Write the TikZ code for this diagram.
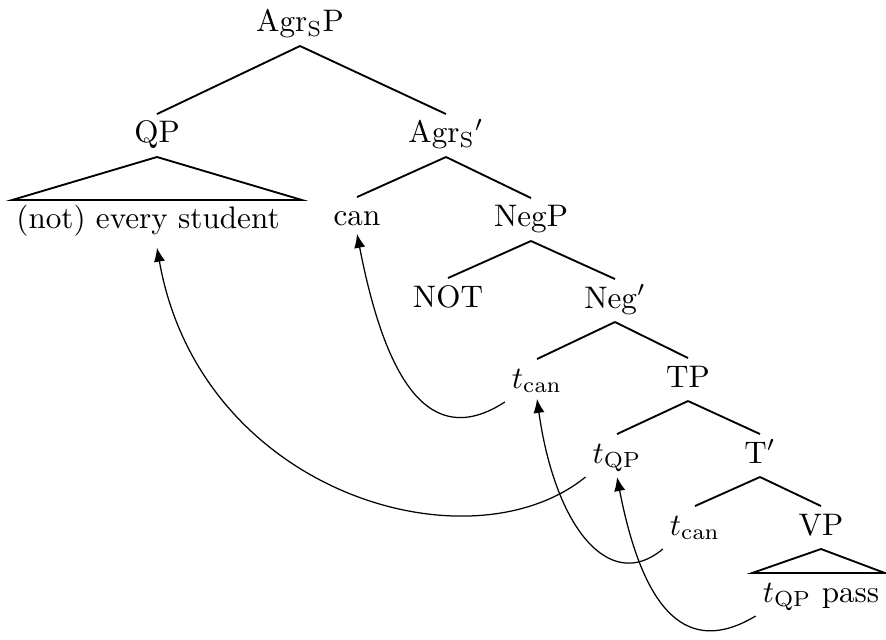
\documentclass[tikz,border=0pt]{standalone}
\usetikzlibrary{arrows.meta}

\begin{document}
\begin{tikzpicture}[x=0.11287mm,y=0.11287mm,>={Latex[length=4.5pt,width=3.6pt]},semithick]
  \tikzstyle{every node}=[anchor=base,inner sep=2pt,text height=7pt,text depth=2.2pt]
  \useasboundingbox (0,0) rectangle (886,639);

  \node (AgrSP) at (300,607) {Agr$_{\mathrm{S}}$P};
  \node (QP)    at (157,496) {QP};
  \node (AgrSb) at (446,496) {Agr$_{\mathrm{S}}{}'$};
  \node (stud)  at (148,410) {(not) every student};
  \node (can)   at (357,413) {can};
  \node (NegP)  at (531,412) {NegP};
  \node (NOT)   at (448,332) {NOT};
  \node (Negb)  at (615,331) {Neg$'$};
  \node (tcanA) at (537,251) {$t_{\mathrm{can}}$};
  \node (TP)    at (688,252) {TP};
  \node (tQPA)  at (617,176) {$t_{\mathrm{QP}}$};
  \node (Tb)    at (760,176) {T$'$};
  \node (tcanB) at (695,104) {$t_{\mathrm{can}}$};
  \node (VP)    at (821,104) {VP};
  \node (pass)  at (821,37)  {$t_{\mathrm{QP}}$ pass};

  % branches
  \draw (AgrSP.south) -- (QP.north);
  \draw (AgrSP.south) -- (AgrSb.north);
  \draw (AgrSb.south) -- (can.north);
  \draw (AgrSb.south) -- (NegP.north);
  \draw (NegP.south) -- (NOT.north);
  \draw (NegP.south) -- (Negb.north);
  \draw (Negb.south) -- (tcanA.north);
  \draw (Negb.south) -- (TP.north);
  \draw (TP.south) -- (tQPA.north);
  \draw (TP.south) -- (Tb.north);
  \draw (Tb.south) -- (tcanB.north);
  \draw (Tb.south) -- (VP.north);

  % roofs
  \draw (QP.south) -- (12,0 |- stud.north) -- (302,0 |- stud.north) -- cycle;
  \draw (VP.south) -- (752,0 |- pass.north) -- (885,0 |- pass.north) -- cycle;

  % movement
  \begin{scope}[->,thin]
  \draw (tQPA.south west) to [out=219,in=-80,out looseness=0.79,in looseness=1.31] ([yshift=-1.5pt]QP |- stud.south);
  \draw (tcanA.south west) to [out=213,in=-79,out looseness=1.03,in looseness=1.71] ([yshift=2pt]can.south);
  \draw (tcanB.south west) to [out=220,in=-82,out looseness=0.91,in looseness=1.69] ([yshift=1pt]tcanA.south);
  \draw (pass.south west) to [out=211,in=-79,out looseness=1.03,in looseness=1.8] (tQPA.south);
  \end{scope}

\end{tikzpicture}
\end{document}
